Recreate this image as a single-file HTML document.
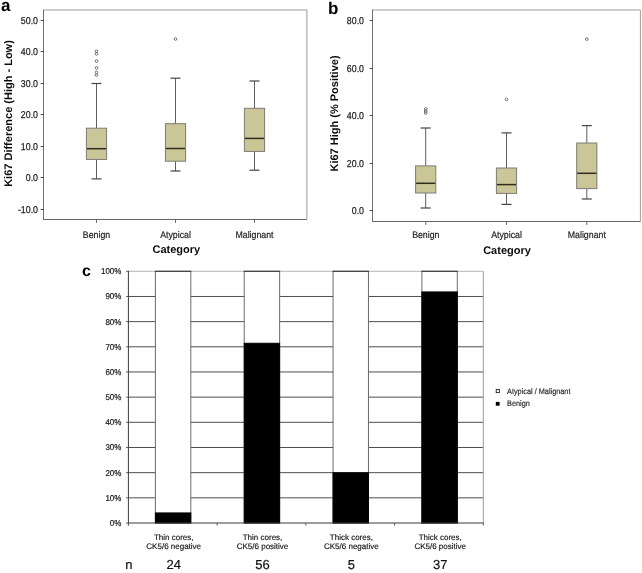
<!DOCTYPE html><html><head><meta charset="utf-8"><style>
html,body{margin:0;padding:0;background:#fff;width:642px;height:573px;overflow:hidden}
svg{display:block;font-family:"Liberation Sans", sans-serif;will-change:transform;text-rendering:geometricPrecision}
.tk{font-size:10px;fill:#1e1e1e;stroke:#1e1e1e;stroke-width:0.25px}
.ct{font-size:9.6px;fill:#1e1e1e;stroke:#1e1e1e;stroke-width:0.2px}
.xt{font-size:11px;font-weight:bold;fill:#0a0a0a}
.yl{font-size:11px;font-weight:bold;fill:#0a0a0a}
.let{font-size:17px;font-weight:bold;fill:#000}
.c8{font-size:8.5px;fill:#1a1a1a;stroke:#1a1a1a;stroke-width:0.2px}
.cl{font-size:8px;fill:#1a1a1a;stroke:#1a1a1a;stroke-width:0.18px}
.n{font-size:13px;fill:#111;stroke:#111;stroke-width:0.2px}
</style></head><body>
<svg width="642" height="573" viewBox="0 0 642 573">
<line x1="43.6" y1="10" x2="306.9" y2="10" stroke="#9c9c9c" stroke-width="1"/>
<line x1="306.9" y1="10" x2="306.9" y2="219.2" stroke="#9c9c9c" stroke-width="1"/>
<line x1="43.5" y1="9.5" x2="43.5" y2="220.0" stroke="#707070" stroke-width="1"/>
<line x1="43.5" y1="219.5" x2="306.9" y2="219.5" stroke="#666" stroke-width="1"/>
<line x1="40.6" y1="20.5" x2="43.6" y2="20.5" stroke="#4a4a4a" stroke-width="1"/>
<text transform="translate(38.00,23.60) scale(0.88,1)" text-anchor="end" class="tk">50.0</text>
<line x1="40.6" y1="51.5" x2="43.6" y2="51.5" stroke="#4a4a4a" stroke-width="1"/>
<text transform="translate(38.00,55.10) scale(0.88,1)" text-anchor="end" class="tk">40.0</text>
<line x1="40.6" y1="83.5" x2="43.6" y2="83.5" stroke="#4a4a4a" stroke-width="1"/>
<text transform="translate(38.00,86.60) scale(0.88,1)" text-anchor="end" class="tk">30.0</text>
<line x1="40.6" y1="114.5" x2="43.6" y2="114.5" stroke="#4a4a4a" stroke-width="1"/>
<text transform="translate(38.00,118.10) scale(0.88,1)" text-anchor="end" class="tk">20.0</text>
<line x1="40.6" y1="146.5" x2="43.6" y2="146.5" stroke="#4a4a4a" stroke-width="1"/>
<text transform="translate(38.00,149.60) scale(0.88,1)" text-anchor="end" class="tk">10.0</text>
<line x1="40.6" y1="177.5" x2="43.6" y2="177.5" stroke="#4a4a4a" stroke-width="1"/>
<text transform="translate(38.00,181.10) scale(0.88,1)" text-anchor="end" class="tk">0.0</text>
<line x1="40.6" y1="209.5" x2="43.6" y2="209.5" stroke="#4a4a4a" stroke-width="1"/>
<text transform="translate(38.00,212.60) scale(0.88,1)" text-anchor="end" class="tk">-10.0</text>
<line x1="96.5" y1="219.2" x2="96.5" y2="222.79999999999998" stroke="#666" stroke-width="1"/>
<text transform="translate(96.50,238.00) scale(0.915,1)" text-anchor="middle" class="ct">Benign</text>
<line x1="175.5" y1="219.2" x2="175.5" y2="222.79999999999998" stroke="#666" stroke-width="1"/>
<text transform="translate(175.50,238.00) scale(0.915,1)" text-anchor="middle" class="ct">Atypical</text>
<line x1="254.5" y1="219.2" x2="254.5" y2="222.79999999999998" stroke="#666" stroke-width="1"/>
<text transform="translate(254.50,238.00) scale(0.915,1)" text-anchor="middle" class="ct">Malignant</text>
<line x1="96.5" y1="83.5" x2="96.5" y2="128.2" stroke="#5e5e5e" stroke-width="1"/>
<line x1="96.5" y1="159.4" x2="96.5" y2="178.9" stroke="#5e5e5e" stroke-width="1"/>
<line x1="91.5" y1="83.5" x2="101.5" y2="83.5" stroke="#444" stroke-width="1.2"/>
<line x1="91.5" y1="178.9" x2="101.5" y2="178.9" stroke="#444" stroke-width="1.2"/>
<rect x="86.4" y="128.2" width="20.2" height="31.200000000000017" fill="#cbc697" stroke="#7c7c74" stroke-width="1"/>
<line x1="86.9" y1="148.7" x2="106.1" y2="148.7" stroke="#2e2c1c" stroke-width="1.5"/>
<line x1="175.5" y1="78.2" x2="175.5" y2="123.7" stroke="#5e5e5e" stroke-width="1"/>
<line x1="175.5" y1="161.2" x2="175.5" y2="171" stroke="#5e5e5e" stroke-width="1"/>
<line x1="170.5" y1="78.2" x2="180.5" y2="78.2" stroke="#444" stroke-width="1.2"/>
<line x1="170.5" y1="171" x2="180.5" y2="171" stroke="#444" stroke-width="1.2"/>
<rect x="165.4" y="123.7" width="20.2" height="37.499999999999986" fill="#cbc697" stroke="#7c7c74" stroke-width="1"/>
<line x1="165.9" y1="148.5" x2="185.1" y2="148.5" stroke="#2e2c1c" stroke-width="1.5"/>
<line x1="254.5" y1="81" x2="254.5" y2="108.3" stroke="#5e5e5e" stroke-width="1"/>
<line x1="254.5" y1="151.4" x2="254.5" y2="170.2" stroke="#5e5e5e" stroke-width="1"/>
<line x1="249.5" y1="81" x2="259.5" y2="81" stroke="#444" stroke-width="1.2"/>
<line x1="249.5" y1="170.2" x2="259.5" y2="170.2" stroke="#444" stroke-width="1.2"/>
<rect x="244.4" y="108.3" width="20.2" height="43.10000000000001" fill="#cbc697" stroke="#7c7c74" stroke-width="1"/>
<line x1="244.9" y1="138.4" x2="264.1" y2="138.4" stroke="#2e2c1c" stroke-width="1.5"/>
<circle cx="96.5" cy="51.2" r="1.35" fill="none" stroke="#555" stroke-width="0.8"/>
<circle cx="96.5" cy="53.9" r="1.35" fill="none" stroke="#555" stroke-width="0.8"/>
<circle cx="96.5" cy="61.1" r="1.35" fill="none" stroke="#555" stroke-width="0.8"/>
<circle cx="96.5" cy="67.9" r="1.35" fill="none" stroke="#555" stroke-width="0.8"/>
<circle cx="96.5" cy="72.3" r="1.35" fill="none" stroke="#555" stroke-width="0.8"/>
<circle cx="96.5" cy="75.1" r="1.35" fill="none" stroke="#555" stroke-width="0.8"/>
<circle cx="175.5" cy="39" r="1.35" fill="none" stroke="#555" stroke-width="0.8"/>
<text x="1.00" y="11.20" text-anchor="start" class="let">a</text>
<text transform="translate(12.3,113.5) rotate(-90)" text-anchor="middle" class="yl">Ki67 Difference (High - Low)</text>
<text x="176.30" y="253.00" text-anchor="middle" class="xt">Category</text>
<line x1="372.6" y1="10" x2="640.4" y2="10" stroke="#9c9c9c" stroke-width="1"/>
<line x1="640.4" y1="10" x2="640.4" y2="221.3" stroke="#9c9c9c" stroke-width="1"/>
<line x1="372.5" y1="9.5" x2="372.5" y2="222.0" stroke="#707070" stroke-width="1"/>
<line x1="372.5" y1="221.5" x2="640.4" y2="221.5" stroke="#666" stroke-width="1"/>
<line x1="369.6" y1="20.5" x2="372.6" y2="20.5" stroke="#4a4a4a" stroke-width="1"/>
<text transform="translate(364.00,24.10) scale(0.88,1)" text-anchor="end" class="tk">80.0</text>
<line x1="369.6" y1="68.5" x2="372.6" y2="68.5" stroke="#4a4a4a" stroke-width="1"/>
<text transform="translate(364.00,71.60) scale(0.88,1)" text-anchor="end" class="tk">60.0</text>
<line x1="369.6" y1="115.5" x2="372.6" y2="115.5" stroke="#4a4a4a" stroke-width="1"/>
<text transform="translate(364.00,119.10) scale(0.88,1)" text-anchor="end" class="tk">40.0</text>
<line x1="369.6" y1="163.5" x2="372.6" y2="163.5" stroke="#4a4a4a" stroke-width="1"/>
<text transform="translate(364.00,166.60) scale(0.88,1)" text-anchor="end" class="tk">20.0</text>
<line x1="369.6" y1="210.5" x2="372.6" y2="210.5" stroke="#4a4a4a" stroke-width="1"/>
<text transform="translate(364.00,214.10) scale(0.88,1)" text-anchor="end" class="tk">0.0</text>
<line x1="425.8" y1="221.3" x2="425.8" y2="224.9" stroke="#666" stroke-width="1"/>
<text transform="translate(425.80,237.50) scale(0.915,1)" text-anchor="middle" class="ct">Benign</text>
<line x1="506.5" y1="221.3" x2="506.5" y2="224.9" stroke="#666" stroke-width="1"/>
<text transform="translate(506.50,237.50) scale(0.915,1)" text-anchor="middle" class="ct">Atypical</text>
<line x1="586.8" y1="221.3" x2="586.8" y2="224.9" stroke="#666" stroke-width="1"/>
<text transform="translate(586.80,237.50) scale(0.915,1)" text-anchor="middle" class="ct">Malignant</text>
<line x1="425.7" y1="128" x2="425.7" y2="165.9" stroke="#5e5e5e" stroke-width="1"/>
<line x1="425.7" y1="193" x2="425.7" y2="208" stroke="#5e5e5e" stroke-width="1"/>
<line x1="420.7" y1="128" x2="430.7" y2="128" stroke="#444" stroke-width="1.2"/>
<line x1="420.7" y1="208" x2="430.7" y2="208" stroke="#444" stroke-width="1.2"/>
<rect x="415.59999999999997" y="165.9" width="20.2" height="27.099999999999994" fill="#cbc697" stroke="#7c7c74" stroke-width="1"/>
<line x1="416.09999999999997" y1="183.3" x2="435.3" y2="183.3" stroke="#2e2c1c" stroke-width="1.5"/>
<line x1="506.5" y1="132.9" x2="506.5" y2="168" stroke="#5e5e5e" stroke-width="1"/>
<line x1="506.5" y1="193.4" x2="506.5" y2="204.4" stroke="#5e5e5e" stroke-width="1"/>
<line x1="501.5" y1="132.9" x2="511.5" y2="132.9" stroke="#444" stroke-width="1.2"/>
<line x1="501.5" y1="204.4" x2="511.5" y2="204.4" stroke="#444" stroke-width="1.2"/>
<rect x="496.4" y="168" width="20.2" height="25.400000000000006" fill="#cbc697" stroke="#7c7c74" stroke-width="1"/>
<line x1="496.9" y1="184.6" x2="516.1" y2="184.6" stroke="#2e2c1c" stroke-width="1.5"/>
<line x1="586.8" y1="125.6" x2="586.8" y2="143" stroke="#5e5e5e" stroke-width="1"/>
<line x1="586.8" y1="188.6" x2="586.8" y2="199" stroke="#5e5e5e" stroke-width="1"/>
<line x1="581.8" y1="125.6" x2="591.8" y2="125.6" stroke="#444" stroke-width="1.2"/>
<line x1="581.8" y1="199" x2="591.8" y2="199" stroke="#444" stroke-width="1.2"/>
<rect x="576.6999999999999" y="143" width="20.2" height="45.599999999999994" fill="#cbc697" stroke="#7c7c74" stroke-width="1"/>
<line x1="577.1999999999999" y1="173.3" x2="596.4" y2="173.3" stroke="#2e2c1c" stroke-width="1.5"/>
<circle cx="425.7" cy="108.9" r="1.35" fill="none" stroke="#555" stroke-width="0.8"/>
<circle cx="425.7" cy="111.0" r="1.35" fill="none" stroke="#555" stroke-width="0.8"/>
<circle cx="425.7" cy="113.1" r="1.35" fill="none" stroke="#555" stroke-width="0.8"/>
<circle cx="506.5" cy="99.4" r="1.35" fill="none" stroke="#555" stroke-width="0.8"/>
<circle cx="586.8" cy="39.1" r="1.35" fill="none" stroke="#555" stroke-width="0.8"/>
<text x="328.00" y="13.70" text-anchor="start" class="let">b</text>
<text transform="translate(337.8,113.5) rotate(-90)" text-anchor="middle" class="yl">Ki67 High (% Positive)</text>
<text x="507.00" y="254.00" text-anchor="middle" class="xt">Category</text>
<line x1="128.4" y1="497.83" x2="483.3" y2="497.83" stroke="#4e4e4e" stroke-width="1"/>
<line x1="128.4" y1="472.66" x2="483.3" y2="472.66" stroke="#4e4e4e" stroke-width="1"/>
<line x1="128.4" y1="447.49" x2="483.3" y2="447.49" stroke="#4e4e4e" stroke-width="1"/>
<line x1="128.4" y1="422.32" x2="483.3" y2="422.32" stroke="#4e4e4e" stroke-width="1"/>
<line x1="128.4" y1="397.15" x2="483.3" y2="397.15" stroke="#4e4e4e" stroke-width="1"/>
<line x1="128.4" y1="371.98" x2="483.3" y2="371.98" stroke="#4e4e4e" stroke-width="1"/>
<line x1="128.4" y1="346.81" x2="483.3" y2="346.81" stroke="#4e4e4e" stroke-width="1"/>
<line x1="128.4" y1="321.64" x2="483.3" y2="321.64" stroke="#4e4e4e" stroke-width="1"/>
<line x1="128.4" y1="296.47" x2="483.3" y2="296.47" stroke="#4e4e4e" stroke-width="1"/>
<line x1="128.4" y1="271.3" x2="483.3" y2="271.3" stroke="#b4b4b4" stroke-width="1"/>
<line x1="126.0" y1="523.0" x2="128.4" y2="523.0" stroke="#666" stroke-width="1"/>
<text transform="translate(121.40,525.90) scale(0.94,1)" text-anchor="end" class="c8">0%</text>
<line x1="126.0" y1="497.83" x2="128.4" y2="497.83" stroke="#666" stroke-width="1"/>
<text transform="translate(121.40,500.73) scale(0.94,1)" text-anchor="end" class="c8">10%</text>
<line x1="126.0" y1="472.66" x2="128.4" y2="472.66" stroke="#666" stroke-width="1"/>
<text transform="translate(121.40,475.56) scale(0.94,1)" text-anchor="end" class="c8">20%</text>
<line x1="126.0" y1="447.49" x2="128.4" y2="447.49" stroke="#666" stroke-width="1"/>
<text transform="translate(121.40,450.39) scale(0.94,1)" text-anchor="end" class="c8">30%</text>
<line x1="126.0" y1="422.32" x2="128.4" y2="422.32" stroke="#666" stroke-width="1"/>
<text transform="translate(121.40,425.22) scale(0.94,1)" text-anchor="end" class="c8">40%</text>
<line x1="126.0" y1="397.15" x2="128.4" y2="397.15" stroke="#666" stroke-width="1"/>
<text transform="translate(121.40,400.05) scale(0.94,1)" text-anchor="end" class="c8">50%</text>
<line x1="126.0" y1="371.98" x2="128.4" y2="371.98" stroke="#666" stroke-width="1"/>
<text transform="translate(121.40,374.88) scale(0.94,1)" text-anchor="end" class="c8">60%</text>
<line x1="126.0" y1="346.81" x2="128.4" y2="346.81" stroke="#666" stroke-width="1"/>
<text transform="translate(121.40,349.71) scale(0.94,1)" text-anchor="end" class="c8">70%</text>
<line x1="126.0" y1="321.64" x2="128.4" y2="321.64" stroke="#666" stroke-width="1"/>
<text transform="translate(121.40,324.54) scale(0.94,1)" text-anchor="end" class="c8">80%</text>
<line x1="126.0" y1="296.47" x2="128.4" y2="296.47" stroke="#666" stroke-width="1"/>
<text transform="translate(121.40,299.37) scale(0.94,1)" text-anchor="end" class="c8">90%</text>
<line x1="126.0" y1="271.3" x2="128.4" y2="271.3" stroke="#666" stroke-width="1"/>
<text transform="translate(121.40,274.20) scale(0.94,1)" text-anchor="end" class="c8">100%</text>
<line x1="483.3" y1="271.3" x2="483.3" y2="523.0" stroke="#9a9a9a" stroke-width="1"/>
<rect x="155.4" y="271.3" width="35.4" height="251.7" fill="#fff" stroke="#6a6a6a" stroke-width="1"/>
<line x1="154.9" y1="271.3" x2="191.3" y2="271.3" stroke="#3a3a3a" stroke-width="1"/>
<rect x="155.4" y="512.932" width="35.4" height="10.068" fill="#000" stroke="#000" stroke-width="1"/>
<text x="173.70" y="539.60" text-anchor="middle" class="cl">Thin cores,</text>
<text x="173.70" y="548.60" text-anchor="middle" class="cl">CK5/6 negative</text>
<text x="173.70" y="569.20" text-anchor="middle" class="n">24</text>
<rect x="244.23000000000002" y="271.3" width="35.4" height="251.7" fill="#fff" stroke="#6a6a6a" stroke-width="1"/>
<line x1="243.73000000000002" y1="271.3" x2="280.13" y2="271.3" stroke="#3a3a3a" stroke-width="1"/>
<rect x="244.23000000000002" y="343.2862" width="35.4" height="179.7138" fill="#000" stroke="#000" stroke-width="1"/>
<text x="262.53" y="539.60" text-anchor="middle" class="cl">Thin cores,</text>
<text x="262.53" y="548.60" text-anchor="middle" class="cl">CK5/6 positive</text>
<text x="262.53" y="569.20" text-anchor="middle" class="n">56</text>
<rect x="333.06" y="271.3" width="35.4" height="251.7" fill="#fff" stroke="#6a6a6a" stroke-width="1"/>
<line x1="332.56" y1="271.3" x2="368.96" y2="271.3" stroke="#3a3a3a" stroke-width="1"/>
<rect x="333.06" y="472.65999999999997" width="35.4" height="50.34" fill="#000" stroke="#000" stroke-width="1"/>
<text x="351.36" y="539.60" text-anchor="middle" class="cl">Thick cores,</text>
<text x="351.36" y="548.60" text-anchor="middle" class="cl">CK5/6 negative</text>
<text x="351.36" y="569.20" text-anchor="middle" class="n">5</text>
<rect x="421.89" y="271.3" width="35.4" height="251.7" fill="#fff" stroke="#6a6a6a" stroke-width="1"/>
<line x1="421.39" y1="271.3" x2="457.78999999999996" y2="271.3" stroke="#3a3a3a" stroke-width="1"/>
<rect x="421.89" y="291.9394" width="35.4" height="231.0606" fill="#000" stroke="#000" stroke-width="1"/>
<text x="440.19" y="539.60" text-anchor="middle" class="cl">Thick cores,</text>
<text x="440.19" y="548.60" text-anchor="middle" class="cl">CK5/6 positive</text>
<text x="440.19" y="569.20" text-anchor="middle" class="n">37</text>
<line x1="128.4" y1="270.8" x2="128.4" y2="525.5" stroke="#3a3a3a" stroke-width="1"/>
<line x1="128.4" y1="523.0" x2="483.3" y2="523.0" stroke="#3a3a3a" stroke-width="1"/>
<line x1="128.4" y1="523.0" x2="128.4" y2="525.5" stroke="#555" stroke-width="1"/>
<line x1="217.125" y1="523.0" x2="217.125" y2="525.5" stroke="#555" stroke-width="1"/>
<line x1="305.85" y1="523.0" x2="305.85" y2="525.5" stroke="#555" stroke-width="1"/>
<line x1="394.57499999999993" y1="523.0" x2="394.57499999999993" y2="525.5" stroke="#555" stroke-width="1"/>
<line x1="483.29999999999995" y1="523.0" x2="483.29999999999995" y2="525.5" stroke="#555" stroke-width="1"/>
<text x="125.30" y="569.30" text-anchor="start" class="n">n</text>
<text x="82.10" y="275.60" text-anchor="start" class="let" style="font-size:16px">c</text>
<rect x="496.2" y="389.4" width="3.2" height="3.2" fill="#fff" stroke="#222" stroke-width="0.9"/>
<rect x="495.8" y="401.9" width="3.8" height="3.8" fill="#000"/>
<text transform="translate(507.00,394.20) scale(0.915,1)" text-anchor="start" class="cl" style="fill:#333;font-size:8px">Atypical / Malignant</text>
<text transform="translate(507.00,405.80) scale(0.915,1)" text-anchor="start" class="cl" style="fill:#333;font-size:8px">Benign</text>
</svg></body></html>
